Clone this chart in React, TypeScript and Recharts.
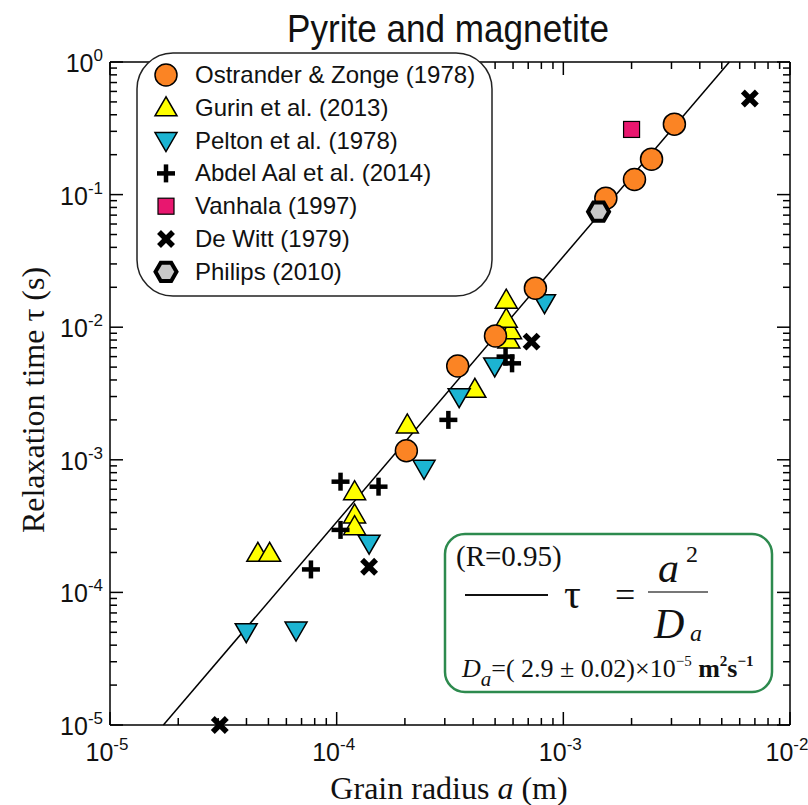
import React from 'react';
import { ScatterChart, Scatter, XAxis, YAxis, Legend } from 'recharts';

// [grain radius a (m), relaxation time tau (s)]
const ostrander = [[2.03e-4, 1.17e-3], [3.42e-4, 5.1e-3], [5.02e-4, 8.6e-3], [7.53e-4, 1.97e-2], [1.54e-3, 9.4e-2], [2.06e-3, 0.13], [2.45e-3, 0.185], [3.09e-3, 0.34]];
const gurin = [[4.49e-5, 1.97e-4], [5.06e-5, 1.97e-4], [1.2e-4, 5.75e-4], [1.2e-4, 3.84e-4], [1.2e-4, 3.13e-4], [2.05e-4, 1.83e-3], [4.07e-4, 3.4e-3], [5.75e-4, 8.0e-3], [5.85e-4, 9.4e-3], [5.6e-4, 1.15e-2], [5.6e-4, 1.6e-2]];
const pelton = [[3.99e-5, 5.06e-5], [6.62e-5, 5.2e-5], [1.39e-4, 2.35e-4], [2.43e-4, 8.63e-4], [3.47e-4, 2.99e-3], [4.98e-4, 5.1e-3], [8.26e-4, 1.53e-2]];
const abdelAal = [[7.7e-5, 1.49e-4], [1.04e-4, 2.96e-4], [1.04e-4, 6.84e-4], [1.53e-4, 6.27e-4], [3.11e-4, 2.0e-3], [5.56e-4, 6.0e-3], [5.94e-4, 5.34e-3]];
const vanhala = [[2.0e-3, 0.31]];
const deWitt = [[3.05e-5, 1e-5], [1.39e-4, 1.56e-4], [7.24e-4, 7.78e-3], [6.65e-3, 0.53]];
const philips = [[1.43e-3, 7.43e-2]];
const fitLine = [[1.72e-5, 1e-5], [5.4e-3, 1]];

const xDecades = [1e-5, 1e-4, 1e-3, 1e-2];
const yDecades = [1e-5, 1e-4, 1e-3, 1e-2, 1e-1, 1];
const minorSteps = [1, 2, 3, 4, 5, 6, 7, 8, 9];

const legendOrder = ['Ostrander & Zonge (1978)', 'Gurin et al. (2013)', 'Pelton et al. (1978)', 'Abdel Aal et al. (2014)', 'Vanhala (1997)', 'De Witt (1979)', 'Philips (2010)'];

const NARROW = '"Liberation Sans Narrow", "Arial Narrow", "Liberation Sans", Arial, sans-serif';
const SANS = '"Liberation Sans", Arial, sans-serif';
const SERIF = '"Liberation Serif", "Times New Roman", serif';

const toPts = (rows: number[][]) => rows.map(([a, t]) => ({ a, t }));

const buildTicks = (decades: number[]) => {
  const out: number[] = [];
  decades.forEach((d, i) => {
    if (i === decades.length - 1) out.push(d);
    else minorSteps.forEach((m) => out.push(d * m));
  });
  return out;
};
const xTicks = buildTicks(xDecades);
const yTicks = buildTicks(yDecades);

const isDecade = (v: number) => Math.abs(Math.log10(v) - Math.round(Math.log10(v))) < 1e-6;
const expOf = (v: number) => String(Math.round(Math.log10(v)));

const MAJ = 13;
const MIN = 7;

const Pow = ({ x, y, v, anchor }: any) => (
  <text x={x} y={y} textAnchor={anchor} fontFamily={NARROW} fontSize={25} fill="#111">
    10<tspan dy={-11} fontSize={17}>{expOf(v)}</tspan>
  </text>
);

const XTickBottom = ({ x, y, payload }: any) => {
  const major = isDecade(payload.value);
  return (
    <g>
      <line x1={x} x2={x} y1={y} y2={y - (major ? MAJ : MIN)} stroke="#000" strokeWidth={1.5} />
      {major && <Pow x={x - 3} y={y + 36} v={payload.value} anchor="middle" />}
    </g>
  );
};
const XTickTop = ({ x, y, payload }: any) => {
  const major = isDecade(payload.value);
  return <line x1={x} x2={x} y1={y} y2={y + (major ? MAJ : MIN)} stroke="#000" strokeWidth={1.5} />;
};
const YTickLeft = ({ x, y, payload }: any) => {
  const major = isDecade(payload.value);
  return (
    <g>
      <line x1={x} x2={x + (major ? MAJ : MIN)} y1={y} y2={y} stroke="#000" strokeWidth={1.5} />
      {major && <Pow x={x - 7} y={y + 10} v={payload.value} anchor="end" />}
    </g>
  );
};
const YTickRight = ({ x, y, payload }: any) => {
  const major = isDecade(payload.value);
  return <line x1={x} x2={x - (major ? MAJ : MIN)} y1={y} y2={y} stroke="#000" strokeWidth={1.5} />;
};

// marker shapes
const Circle = ({ cx, cy }: any) => <circle cx={cx} cy={cy} r={11} fill="#fb8424" stroke="#000" strokeWidth={1.5} />;
const TriUp = ({ cx, cy }: any) => (
  <polygon points={`${cx},${cy - 11} ${cx - 11},${cy + 8} ${cx + 11},${cy + 8}`} fill="#ffff00" stroke="#000" strokeWidth={1.5} />
);
const TriDown = ({ cx, cy }: any) => (
  <polygon points={`${cx},${cy + 11} ${cx - 11},${cy - 8} ${cx + 11},${cy - 8}`} fill="#1cb4d2" stroke="#000" strokeWidth={1.5} />
);
const Plus = ({ cx, cy }: any) => (
  <g stroke="#000" strokeWidth={4.5}>
    <line x1={cx - 9} x2={cx + 9} y1={cy} y2={cy} />
    <line x1={cx} x2={cx} y1={cy - 9} y2={cy + 9} />
  </g>
);
const Square = ({ cx, cy }: any) => <rect x={cx - 8} y={cy - 8} width={16} height={16} fill="#e8176f" stroke="#000" strokeWidth={1.2} />;
const Cross = ({ cx, cy }: any) => (
  <g stroke="#000" strokeWidth={5.5}>
    <line x1={cx - 7} x2={cx + 7} y1={cy - 7} y2={cy + 7} />
    <line x1={cx - 7} x2={cx + 7} y1={cy + 7} y2={cy - 7} />
  </g>
);
const Hexagon = ({ cx, cy }: any) => {
  const r = 10.5;
  const pts = [0, 60, 120, 180, 240, 300]
    .map((d) => `${cx + r * Math.cos((d * Math.PI) / 180)},${cy + r * Math.sin((d * Math.PI) / 180)}`)
    .join(' ');
  return <polygon points={pts} fill="#c8c8c8" stroke="#000" strokeWidth={4} />;
};
const NoDot = () => <g />;

const markers: Record<string, any> = {
  'Ostrander & Zonge (1978)': Circle,
  'Gurin et al. (2013)': TriUp,
  'Pelton et al. (1978)': TriDown,
  'Abdel Aal et al. (2014)': Plus,
  'Vanhala (1997)': Square,
  'De Witt (1979)': Cross,
  'Philips (2010)': Hexagon,
};

const LegendBox = ({ payload }: any) => {
  const items = (payload || [])
    .filter((p: any) => markers[p.value])
    .sort((p: any, q: any) => legendOrder.indexOf(p.value) - legendOrder.indexOf(q.value));
  return (
    <svg width={358} height={246} style={{ display: 'block' }}>
      <rect x={1} y={1} width={355} height={243} rx={36} fill="#fff" stroke="#222" strokeWidth={1.5} />
      {items.map((it: any, i: number) => {
        const M = markers[it.value];
        const cy = 23 + i * 32.8;
        return (
          <g key={it.value}>
            <M cx={30} cy={cy} />
            <text x={59} y={cy + 8} fontFamily={SANS} fontSize={24} fill="#111">{it.value}</text>
          </g>
        );
      })}
    </svg>
  );
};

export default function App() {
  return (
    <div style={{ position: 'absolute', left: 0, top: 0, width: 808, height: 805, background: '#fff' }}>
      <ScatterChart width={808} height={805} margin={{ top: 61, right: 17, bottom: 79, left: 109 }}>
        <XAxis xAxisId="b" type="number" dataKey="a" scale="log" domain={[1e-5, 1e-2]}
          ticks={xTicks} interval={0} tickSize={0} tickMargin={0} height={1} tick={<XTickBottom />}
          axisLine={{ stroke: '#000', strokeWidth: 1.5 }} />
        <XAxis xAxisId="t" orientation="top" type="number" dataKey="a" scale="log" domain={[1e-5, 1e-2]}
          ticks={xTicks} interval={0} tickSize={0} tickMargin={0} height={1} tick={<XTickTop />}
          axisLine={{ stroke: '#000', strokeWidth: 1.5 }} />
        <YAxis yAxisId="l" type="number" dataKey="t" scale="log" domain={[1e-5, 1]}
          ticks={yTicks} interval={0} tickSize={0} tickMargin={0} width={1} tick={<YTickLeft />}
          axisLine={{ stroke: '#000', strokeWidth: 1.5 }} />
        <YAxis yAxisId="r" orientation="right" type="number" dataKey="t" scale="log" domain={[1e-5, 1]}
          ticks={yTicks} interval={0} tickSize={0} tickMargin={0} width={1} tick={<YTickRight />}
          axisLine={{ stroke: '#000', strokeWidth: 1.5 }} />

        <Scatter xAxisId="t" yAxisId="r" data={toPts(fitLine)} shape={NoDot} legendType="none" isAnimationActive={false} />
        <Scatter xAxisId="b" yAxisId="l" data={toPts(fitLine)} line={{ stroke: '#000', strokeWidth: 1.5 }} shape={NoDot}
          legendType="none" isAnimationActive={false} />
        <Scatter xAxisId="b" yAxisId="l" name="Gurin et al. (2013)" data={toPts(gurin)} shape={TriUp} isAnimationActive={false} />
        <Scatter xAxisId="b" yAxisId="l" name="Pelton et al. (1978)" data={toPts(pelton)} shape={TriDown} isAnimationActive={false} />
        <Scatter xAxisId="b" yAxisId="l" name="Abdel Aal et al. (2014)" data={toPts(abdelAal)} shape={Plus} isAnimationActive={false} />
        <Scatter xAxisId="b" yAxisId="l" name="Vanhala (1997)" data={toPts(vanhala)} shape={Square} isAnimationActive={false} />
        <Scatter xAxisId="b" yAxisId="l" name="De Witt (1979)" data={toPts(deWitt)} shape={Cross} isAnimationActive={false} />
        <Scatter xAxisId="b" yAxisId="l" name="Ostrander & Zonge (1978)" data={toPts(ostrander)} shape={Circle} isAnimationActive={false} />
        <Scatter xAxisId="b" yAxisId="l" name="Philips (2010)" data={toPts(philips)} shape={Hexagon} isAnimationActive={false} />

        <Legend layout="horizontal" verticalAlign="middle" align="center" content={<LegendBox />}
          wrapperStyle={{ position: 'absolute', left: 136, top: 52, width: 358, height: 246 }} />
      </ScatterChart>

      <svg width={808} height={805} style={{ position: 'absolute', left: 0, top: 0, pointerEvents: 'none' }}>
        <text x={448} y={42} textAnchor="middle" fontFamily={NARROW} fontSize={38} textLength={322}
          lengthAdjust="spacingAndGlyphs" fill="#111">Pyrite and magnetite</text>
        <text x={449} y={799} textAnchor="middle" fontFamily={SERIF} fontSize={32} fill="#111">
          Grain radius <tspan fontStyle="italic">a</tspan> (m)
        </text>
        <text x={0} y={0} transform="translate(44,400) rotate(-90)" textAnchor="middle" fontFamily={SERIF} fontSize={32} fill="#111">
          Relaxation time τ (s)
        </text>

        <rect x={445} y={534} width={327} height={158} rx={20} fill="#fff" stroke="#2d8a4e" strokeWidth={2.5} />
        <text x={456} y={566} fontFamily={SERIF} fontSize={29} fill="#111">(R=0.95)</text>
        <line x1={465} x2={548} y1={595} y2={595} stroke="#111" strokeWidth={2} />
        <text x={564} y={608} fontFamily={SERIF} fontSize={42} fill="#111">τ</text>
        <text x={615} y={607} fontFamily={SERIF} fontSize={36} fill="#111">=</text>
        <line x1={648} x2={708} y1={592} y2={592} stroke="#777" strokeWidth={2} />
        <text x={658} y={582} fontFamily={SERIF} fontStyle="italic" fontSize={42} fill="#111">a</text>
        <text x={686} y={562} fontFamily={SERIF} fontSize={24} fill="#111">2</text>
        <text x={654} y={638} fontFamily={SERIF} fontStyle="italic" fontSize={42} fill="#111">D</text>
        <text x={690} y={641} fontFamily={SERIF} fontStyle="italic" fontSize={24} fill="#111">a</text>
        <text x={462} y={677} fontFamily={SERIF} fontSize={26} fill="#111">
          <tspan fontStyle="italic">D</tspan>
          <tspan fontStyle="italic" fontSize={21} dy={9}>a</tspan>
          <tspan dy={-9}>=( 2.9 ± 0.02)×10</tspan>
          <tspan fontSize={15} dy={-11}>−5</tspan>
          <tspan dy={11} fontWeight="bold"> m</tspan>
          <tspan fontSize={15} dy={-11} fontWeight="bold">2</tspan>
          <tspan dy={11} fontWeight="bold">s</tspan>
          <tspan fontSize={15} dy={-11} fontWeight="bold">−1</tspan>
        </text>
      </svg>
    </div>
  );
}
